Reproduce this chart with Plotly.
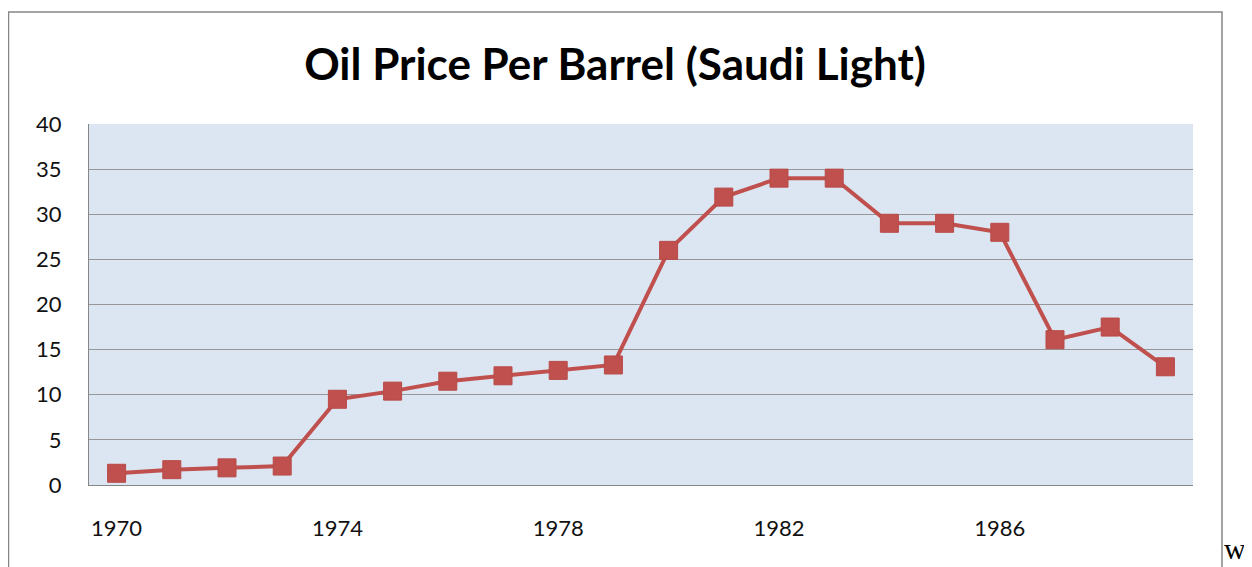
import plotly.graph_objects as go

years = [str(y) for y in range(1970, 1990)]
prices = [1.3, 1.7, 1.9, 2.1, 9.5, 10.4, 11.5, 12.1, 12.7, 13.3,
          26.0, 31.9, 34.0, 34.0, 29.0, 29.0, 28.0, 16.1, 17.5, 13.1]
tick_years = ["1970", "1974", "1978", "1982", "1986"]
title_text = "Oil Price Per Barrel (Saudi Light)"

W, H = 1244, 559
L, T, PW, PH = 81, 116, 1104, 361

fig = go.Figure()
fig.add_trace(go.Scatter(
    x=years, y=prices, mode="lines+markers",
    line=dict(color="#c0504d", width=4),
    marker=dict(symbol="square", size=18, color="#c0504d",
                line=dict(color="#b84a47", width=1)),
    showlegend=False, hoverinfo="x+y"))

fig.update_layout(
    width=W, height=H,
    margin=dict(l=L, r=W - L - PW, t=T, b=H - T - PH),
    paper_bgcolor="white", plot_bgcolor="#dce6f2",
    font=dict(family="Lato, Carlito, Liberation Sans, sans-serif", size=22, color="#111111"),
    title=dict(text="<b>" + title_text + "</b>", xref="container", x=607 / W, xanchor="center",
               yref="container", y=1 - 57 / H, yanchor="middle",
               font=dict(family="Lato, Carlito, sans-serif", size=44, color="#000000")),
    xaxis=dict(type="category", categoryorder="array", categoryarray=years,
               range=[-0.5, 19.5], tickmode="array", tickvals=tick_years, ticktext=tick_years,
               showgrid=False, showline=True, linecolor="#868686", linewidth=1,
               ticks="", ticklabelstandoff=24, zeroline=False, fixedrange=True),
    yaxis=dict(range=[0, 40], dtick=5, tick0=0, showgrid=True, gridcolor="#979797", gridwidth=1,
               showline=True, linecolor="#868686", linewidth=1, ticks="",
               ticklabelstandoff=22, zeroline=False, fixedrange=True),
    shapes=[dict(type="rect", xref="paper", yref="paper",
                 x0=(0.5 - L) / PW, x1=(1214 - L) / PW,
                 y0=-0.35, y1=(T + PH - 4) / PH,
                 line=dict(color="#868686", width=1.5), fillcolor="rgba(0,0,0,0)", layer="below")],
    annotations=[dict(text="w", xref="paper", yref="paper",
                      x=(1214 - L) / PW, y=(T + PH - 559) / PH, xanchor="left", yanchor="bottom",
                      showarrow=False, font=dict(family="Liberation Serif, Times New Roman, serif",
                                                 size=30, color="#000000"))],
)

fig.write_html("out.html")
